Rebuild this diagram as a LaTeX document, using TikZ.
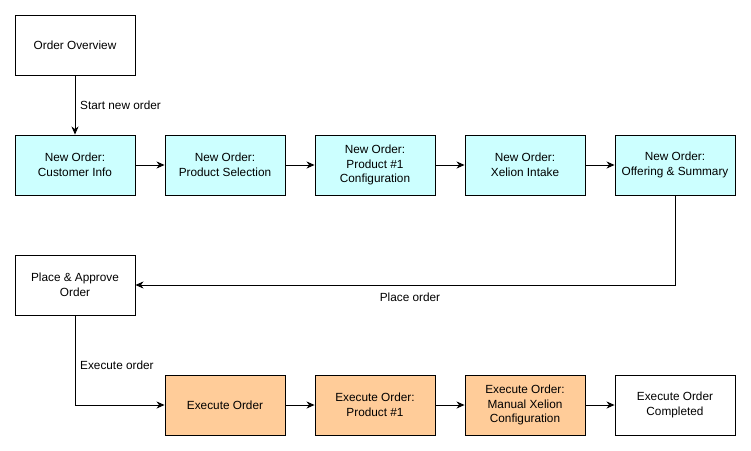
\documentclass[tikz,border=0pt]{standalone}
\usepackage{fontspec}
\setmainfont{Liberation Sans}
\usetikzlibrary{arrows.meta}
\definecolor{cyanfill}{HTML}{CCFFFF}
\definecolor{orangefill}{HTML}{FFCC99}
\begin{document}
\begin{tikzpicture}[x=1pt,y=-1pt,
  box/.style={draw=black, line width=0.9pt, minimum width=120pt, minimum height=60pt, inner sep=0pt, align=center, font=\fontsize{11.8pt}{14.5pt}\selectfont},
  newbox/.style={box, fill=cyanfill},
  exbox/.style={box, fill=orangefill},
  plainbox/.style={box, fill=white},
  conn/.style={draw=black, line width=0.9pt, -{Stealth[length=8pt,width=7pt,inset=2.5pt]}},
  lbl/.style={font=\fontsize{11.8pt}{14.5pt}\selectfont, inner sep=0pt}]
\useasboundingbox (0,0) rectangle (751,450);
\node[plainbox] (ov) at (75,45) {Order Overview};
\node[newbox] (n1) at (75,165) {New Order:\\Customer Info};
\node[newbox] (n2) at (225,165) {New Order:\\Product Selection};
\node[newbox] (n3) at (375,165) {New Order:\\Product \#1\\Configuration};
\node[newbox] (n4) at (525,165) {New Order:\\Xelion Intake};
\node[newbox] (n5) at (675,165) {New Order:\\Offering \& Summary};
\node[plainbox] (pa) at (75,285) {Place \& Approve\\Order};
\node[exbox] (e1) at (225,405) {Execute Order};
\node[exbox] (e2) at (375,405) {Execute Order:\\Product \#1};
\node[exbox] (e3) at (525,405) {Execute Order:\\Manual Xelion\\ Configuration};
\node[plainbox] (e4) at (675,405) {Execute Order\\Completed};
\coordinate (c1) at (675,285);
\coordinate (c2) at (75,405);
\draw[conn] (ov) -- (n1);
\node[lbl, anchor=west] (l1) at (80,105) {Start new order};
\draw[conn] (n1) -- (n2);
\draw[conn] (n2) -- (n3);
\draw[conn] (n3) -- (n4);
\draw[conn] (n4) -- (n5);
\draw[conn] (n5.south) -- (c1) -- (pa.east);
\node[lbl] (l2) at (410,297) {Place order};
\draw[conn] (pa.south) -- (c2) -- (e1.west);
\node[lbl, anchor=west] (l3) at (80,365) {Execute order};
\draw[conn] (e1) -- (e2);
\draw[conn] (e2) -- (e3);
\draw[conn] (e3) -- (e4);
\end{tikzpicture}
\end{document}
